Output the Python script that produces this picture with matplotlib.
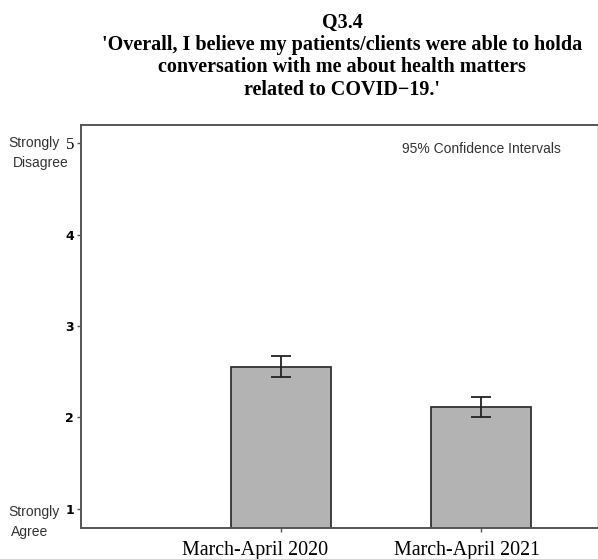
import matplotlib
matplotlib.use('Agg')
import matplotlib.pyplot as plt
import matplotlib.transforms as mtransforms
import numpy as np

# Mean agreement score per survey wave, with 95% CI bounds
periods = ['March-April 2020', 'March-April 2021']
means = [2.55, 2.11]
ci_low = [2.44, 2.00]
ci_high = [2.67, 2.22]
yticks = [1, 2, 3, 4, 5]

title = ("Q3.4\n'Overall, I believe my patients/clients were able to holda\n"
         "conversation with me about health matters\nrelated to COVID\u221219.'")

W, H = 598, 559
fig = plt.figure(figsize=(W / 100, H / 100), dpi=100)
ax = fig.add_axes([81 / W, 31 / H, 516 / W, 403 / H])

x = np.arange(1, len(periods) + 1)
means = np.array(means)
err = np.array([means - np.array(ci_low), np.array(ci_high) - means])

ax.bar(x, means, width=0.5, color='#b3b3b3', edgecolor='#333333', linewidth=1.3)
ax.errorbar(x, means, yerr=err, fmt='none', ecolor='#222222',
            elinewidth=1.3, capsize=7, capthick=1.3)

ax.set_xlim(0.0, 2.58)
ax.set_ylim(0.79, 5.2)
ax.set_xticks(x)
ax.set_xticklabels([])
ax.set_yticks(yticks)
ax.set_yticklabels([str(v) for v in yticks], fontsize=9, fontweight='bold')

# top tick label is set in a serif face
top = ax.get_yticklabels()[-1]
top.set_family('Liberation Serif')
top.set_fontweight('normal')
top.set_fontsize(12)

# category labels, nudged a little left of their ticks
xtrans = ax.get_xaxis_transform()
for xi, lab, dx in zip(x, periods, [-26, -14]):
    off = mtransforms.ScaledTranslation(dx / 100, -13 / 100, fig.dpi_scale_trans)
    ax.text(xi, 0, lab, transform=xtrans + off, ha='center', va='top',
            family='Liberation Serif', fontsize=14.4, clip_on=False)

for side in ['left', 'bottom', 'top']:
    ax.spines[side].set_color('#555555')
    ax.spines[side].set_linewidth(1.4)
ax.spines['right'].set_color('#dddddd')
ax.tick_params(axis='both', length=3, color='#555555', width=1)
ax.tick_params(axis='y', pad=2)

# anchor labels for the ends of the Likert scale
def side_label(px, yval, s):
    ax.text((px - 81) / 516, yval, s, transform=ax.get_yaxis_transform(),
            ha='center', va='center', fontsize=10, color='#333333',
            family='Liberation Sans', clip_on=False)

side_label(34, 5.0, 'Strongly')
side_label(41, 4.78, 'Disagree')
side_label(34, 0.97, 'Strongly')
side_label(30, 0.75, 'Agree')

ax.text(480 / 516, 0.94, '95% Confidence Intervals', transform=ax.transAxes,
        ha='right', va='center', fontsize=10, color='#333333',
        family='Liberation Sans')

fig.text(342 / W, 1 - 13 / H, title, ha='center', va='top',
         family='Liberation Serif', fontweight='bold', fontsize=14.5,
         linespacing=1.15)

plt.savefig('out.png', dpi=100)
plt.close()
